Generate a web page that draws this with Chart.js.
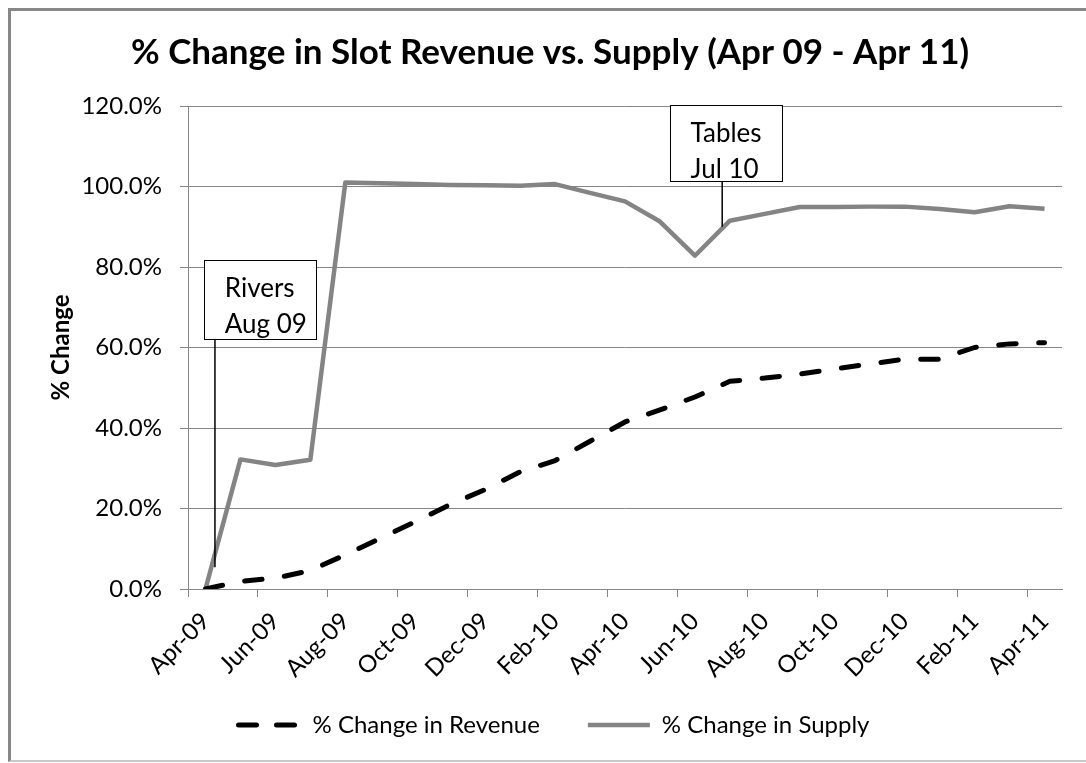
<!DOCTYPE html>
<html><head><meta charset="utf-8">
<script src="https://cdn.jsdelivr.net/npm/chart.js@4.4.1/dist/chart.umd.min.js"></script>
<style>
html,body{margin:0;padding:0;background:#fff;overflow:hidden;width:1086px;height:763px;}
#frame{position:absolute;left:8px;top:8px;width:1200px;height:749px;border-left:3px solid #878787;border-top:3px solid #878787;border-bottom:2px solid #c8c8c8;pointer-events:none;}
canvas{position:absolute;left:0;top:0;}
</style></head><body>
<canvas id="c" width="1086" height="763"></canvas>
<div id="frame"></div>
<script>
const months = ['Apr-09','May-09','Jun-09','Jul-09','Aug-09','Sep-09','Oct-09','Nov-09','Dec-09','Jan-10','Feb-10','Mar-10','Apr-10','May-10','Jun-10','Jul-10','Aug-10','Sep-10','Oct-10','Nov-10','Dec-10','Jan-11','Feb-11','Mar-11','Apr-11'];
const revenue = [0, 1.9, 2.7, 4.6, 8.5, 12.6, 16.7, 21.0, 24.7, 29.1, 31.9, 36.7, 41.5, 44.5, 47.7, 51.6, 52.4, 53.4, 54.7, 55.9, 57.1, 57.1, 60.0, 60.9, 61.2];
const supply = [0, 32.2, 30.8, 32.1, 101.0, 100.8, 100.6, 100.4, 100.3, 100.2, 100.6, 98.4, 96.3, 91.3, 82.8, 91.5, 93.2, 94.9, 94.9, 95.0, 95.0, 94.4, 93.6, 95.1, 94.5];
const seriesNames = ['% Change in Revenue', '% Change in Supply'];
const titleText = '% Change in Slot Revenue vs. Supply (Apr 09 - Apr 11)';
const yAxisTitle = '% Change';
// callouts: box [xFrom, xTo, yTop, yBottom] in axis units, leader [x, yFrom, yTo]
const callouts = [
  {lines: ['Rivers', 'Aug 09'], box: [0.466, 3.677, 81.8, 62.2], leader: [0.771, 62.2, 5.4]},
  {lines: ['Tables', 'Jul 10'], box: [13.79, 16.98, 120.2, 101.4], leader: [15.28, 101.4, 90.0]}
];

const toPoints = arr => arr.map((v, i) => ({x: i + 0.5, y: v}));

const decor = {
  id: 'decor',
  afterDatasetsDraw(chart) {
    const {ctx, scales: {x, y}} = chart;
    ctx.save();
    callouts.forEach(c => {
      const l = x.getPixelForValue(c.box[0]), r = x.getPixelForValue(c.box[1]);
      const t = y.getPixelForValue(c.box[2]), b = y.getPixelForValue(c.box[3]);
      const lx = x.getPixelForValue(c.leader[0]);
      ctx.strokeStyle = '#000';
      ctx.lineWidth = 1.5;
      ctx.beginPath();
      ctx.moveTo(lx, y.getPixelForValue(c.leader[1]));
      ctx.lineTo(lx, y.getPixelForValue(c.leader[2]));
      ctx.stroke();
      ctx.fillStyle = '#fff';
      ctx.fillRect(l, t, r - l, b - t);
      ctx.lineWidth = 1;
      ctx.strokeRect(Math.round(l) + 0.5, Math.round(t) + 0.5, Math.round(r - l), Math.round(b - t));
      ctx.fillStyle = '#000';
      ctx.font = '26px Lato';
      ctx.textAlign = 'left';
      ctx.textBaseline = 'alphabetic';
      ctx.fillText(c.lines[0], l + 20.5, t + 37);
      ctx.fillText(c.lines[1], l + 20.5, t + 73);
    });
    ctx.restore();
  },
  afterDraw(chart) {
    const {ctx} = chart;
    ctx.save();
    ctx.fillStyle = '#000';
    ctx.font = 'bold 35px Lato';
    ctx.textAlign = 'center';
    ctx.textBaseline = 'alphabetic';
    ctx.fillText(titleText, 550, 64);
    ctx.restore();
  }
};

const legendDash = [18, 20];

function make() {
  new Chart(document.getElementById('c'), {
    type: 'line',
    data: {
      datasets: [
        {label: seriesNames[0], data: toPoints(revenue), borderColor: '#000', backgroundColor: '#000',
         borderWidth: 5, borderDash: [17.5, 22.5], borderCapStyle: 'round', borderJoinStyle: 'round',
         pointRadius: 0, tension: 0, fill: false},
        {label: seriesNames[1], data: toPoints(supply), borderColor: '#848484', backgroundColor: '#848484',
         borderWidth: 4.5, borderCapStyle: 'butt', borderJoinStyle: 'round',
         pointRadius: 0, tension: 0, fill: false}
      ]
    },
    options: {
      responsive: false, animation: false, devicePixelRatio: 1,
      layout: {padding: {left: 46, right: 24, top: 106, bottom: 16}},
      plugins: {
        legend: {position: 'bottom', labels: {usePointStyle: true, pointStyle: 'line', pointStyleWidth: 62,
          boxHeight: 24, padding: 48, color: '#000', font: {family: 'Lato', size: 24},
          generateLabels(chart) {
            const items = Chart.defaults.plugins.legend.labels.generateLabels(chart);
            items.forEach(it => {
              const ds = chart.data.datasets[it.datasetIndex];
              it.lineDash = ds.borderDash ? legendDash : [];
              it.lineCap = ds.borderCapStyle;
              it.lineWidth = ds.borderWidth;
              it.strokeStyle = ds.borderColor;
              it.fillStyle = ds.borderColor;
              it.pointStyle = 'line';
            });
            return items;
          }}},
        tooltip: {enabled: false},
        title: {display: false}
      },
      scales: {
        x: {type: 'linear', min: 0, max: months.length,
          afterFit(s) { s.height = 76; s._computeLabelArea = function () { return undefined; }; },
          grid: {drawOnChartArea: false, drawTicks: true, tickLength: 8, color: '#868686'},
          border: {color: '#868686', width: 1},
          ticks: {stepSize: 2, includeBounds: false, autoSkip: false, maxTicksLimit: 100,
            minRotation: 45, maxRotation: 45, padding: 10, labelOffset: 17.5,
            color: '#000', font: {family: 'Lato', size: 24},
            callback: v => (months[v] !== undefined ? months[v] : '')}},
        y: {min: 0, max: 120,
          afterFit(s) { s.width = 142; },
          grid: {color: '#868686', tickLength: 8},
          border: {color: '#868686', width: 1},
          ticks: {stepSize: 20, padding: 18, color: '#000', font: {family: 'Lato', size: 24},
            callback: v => v.toFixed(1) + '%'},
          title: {display: true, text: yAxisTitle, color: '#000',
            font: {family: 'Lato', size: 24, weight: 'bold'}, padding: {top: 1, bottom: 0}}}
      }
    },
    plugins: [decor]
  });
}

const fontLoads = ['24px Lato', 'bold 24px Lato', 'bold 35px Lato', '26px Lato'].map(f => document.fonts.load(f));
Promise.all(fontLoads).then(make, make);
</script>
</body></html>
